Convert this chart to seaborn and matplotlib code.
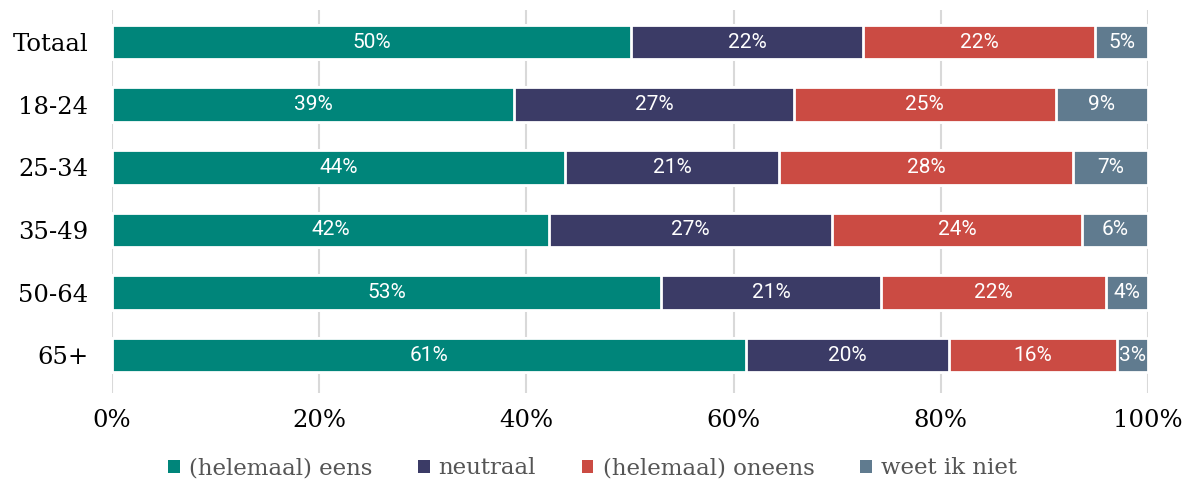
import numpy as np
import pandas as pd
import matplotlib
matplotlib.use("Agg")
import matplotlib.pyplot as plt
import matplotlib.ticker as ticker
from matplotlib.patches import Patch
import seaborn as sns

# Data (bar widths in %, labels are the rounded values)
groups = ["Totaal", "18-24", "25-34", "35-49", "50-64", "65+"]
answers = ["(helemaal) eens", "neutraal", "(helemaal) oneens", "weet ik niet"]
eens = [50.1, 38.8, 43.7, 42.2, 53.0, 61.2]
neutraal = [22.4, 27.0, 20.7, 27.3, 21.2, 19.6]
oneens = [22.4, 25.3, 28.4, 24.1, 21.7, 16.2]
weet_niet = [5.1, 8.9, 7.2, 6.4, 4.1, 3.0]
labels_eens = [50, 39, 44, 42, 53, 61]
labels_neutraal = [22, 27, 21, 27, 21, 20]
labels_oneens = [22, 25, 28, 24, 22, 16]
labels_weet_niet = [5, 9, 7, 6, 4, 3]

colors = ["#00857A", "#3B3B66", "#CB4B43", "#607B8F"]

values = np.array([eens, neutraal, oneens, weet_niet])
labels = np.array([labels_eens, labels_neutraal, labels_oneens, labels_weet_niet])
cum = values.cumsum(axis=0)

sns.set_theme(style="white")
plt.rcParams["font.family"] = ["DejaVu Serif"]

fig = plt.figure(figsize=(11.85, 4.83), dpi=100)
ax = fig.add_axes([0.0945, 0.187, 0.8743, 0.792])

# draw cumulative bars from the back to the front
for i in range(len(answers) - 1, -1, -1):
    df = pd.DataFrame({"group": groups, "value": cum[i]})
    sns.barplot(data=df, x="value", y="group", order=groups, orient="h",
                color=colors[i], saturation=1, width=0.55,
                edgecolor="white", linewidth=2.0, ax=ax, zorder=3)

# value labels in the middle of each segment
for i in range(len(answers)):
    start = cum[i] - values[i]
    for j, g in enumerate(groups):
        ax.text(start[j] + values[i][j] / 2, j, f"{labels[i][j]}%",
                ha="center", va="center", color="white", fontsize=15,
                family="Roboto", zorder=5)

ax.set_xlim(0, 100)
ax.set_ylim(5.6, -0.51)
ax.xaxis.set_major_locator(ticker.MultipleLocator(20))
ax.xaxis.set_major_formatter(ticker.StrMethodFormatter("{x:.0f}%"))
ax.grid(axis="x", color="#d9d9d9", linewidth=1.5, zorder=0)
ax.grid(axis="y", visible=False)
ax.set_axisbelow(True)
for s in ax.spines.values():
    s.set_visible(False)
ax.set_xlabel("")
ax.set_ylabel("")
ax.tick_params(axis="x", length=0, pad=12, labelsize=17.5, labelcolor="black")
ax.tick_params(axis="y", length=0, pad=17, labelsize=17.5, labelcolor="black")

handles = [Patch(facecolor=c, edgecolor="none") for c in colors]
fig.legend(handles, answers, loc="lower center", ncol=4, frameon=False,
           bbox_to_anchor=(0.5, -0.035), fontsize=16.5, labelcolor="#555555",
           handlelength=0.5, handleheight=0.5, handletextpad=0.4,
           columnspacing=2.0)

fig.savefig("out.png", dpi=100)
